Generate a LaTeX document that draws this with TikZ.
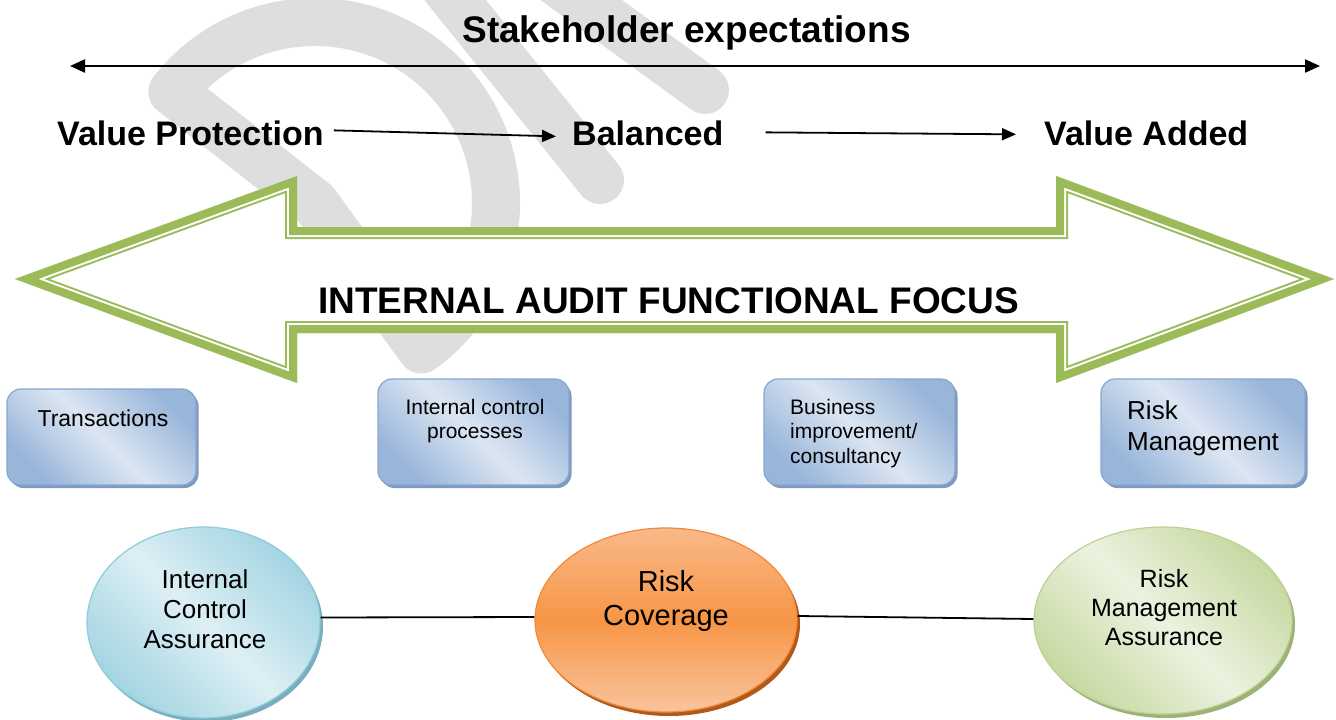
\documentclass[tikz,border=0pt]{standalone}
\usepackage{fontspec}
\setmainfont{Liberation Sans}
\usetikzlibrary{shapes.geometric,arrows.meta,shadows,calc}
\definecolor{wmgrey}{RGB}{222,222,222}
\definecolor{iagreen}{HTML}{9BBB59}
\definecolor{boxedge}{HTML}{86A6D2}
\definecolor{boxlight}{HTML}{DCE6F2}
\definecolor{boxdark}{HTML}{98B5DA}
\definecolor{boxshadow}{HTML}{8099BF}
\definecolor{cylight}{HTML}{DDEFF4}
\definecolor{cydark}{HTML}{A3D5E2}
\definecolor{cyedge}{HTML}{8ECBDB}
\definecolor{cyshadow}{HTML}{79AEBE}
\definecolor{orlight}{HTML}{F9B98A}
\definecolor{orlight2}{HTML}{FAC49C}
\definecolor{ormid}{HTML}{F79646}
\definecolor{oredge}{HTML}{F08A3A}
\definecolor{orshadow}{HTML}{B2591A}
\definecolor{gnlight}{HTML}{ECF2E0}
\definecolor{gndark}{HTML}{C6D9A1}
\definecolor{gnedge}{HTML}{BDD193}
\definecolor{gnshadow}{HTML}{9DB276}
\newcommand{\setfs}[2]{\fontsize{#1}{#2}\selectfont}
\begin{document}
\begin{tikzpicture}[x=1pt,y=-1pt,
  wmline/.style={draw=wmgrey, line width=48pt, line cap=round, line join=round},
  bluebox/.style={rectangle, draw=boxedge, line width=1.2pt, rounded corners=14pt,
    top color=boxdark, bottom color=boxdark, middle color=boxlight, shading angle=-45,
    drop shadow={shadow xshift=2.5pt, shadow yshift=-3pt, fill=boxshadow, opacity=1},
    inner sep=0pt},
  ellnode/.style={ellipse, inner sep=0pt, line width=1.2pt},
  cyell/.style={ellnode, draw=cyedge, top color=cydark, bottom color=cydark, middle color=cylight,
    shading angle=-45, drop shadow={shadow xshift=3pt, shadow yshift=-4pt, fill=cyshadow, opacity=1}},
  orell/.style={ellnode, draw=oredge, top color=orlight, bottom color=orlight2, middle color=ormid,
    drop shadow={shadow xshift=3pt, shadow yshift=-4pt, fill=orshadow, opacity=1}},
  gnell/.style={ellnode, draw=gnedge, top color=gndark, bottom color=gndark, middle color=gnlight,
    shading angle=-45, drop shadow={shadow xshift=3pt, shadow yshift=-4pt, fill=gnshadow, opacity=1}},
  bigtxt/.style={inner sep=0pt, font={\bfseries\setfs{37}{44}}},
  midtxt/.style={inner sep=0pt, font={\bfseries\setfs{34}{40}}},
  conn/.style={draw=black, line width=1.8pt},
  flow/.style={draw=black, line width=1.8pt, -{Triangle[length=14pt,width=12pt]}},
  span/.style={draw=black, line width=2.2pt, {Triangle[length=15pt,width=13pt]}-{Triangle[length=15pt,width=13pt]}}
]
\useasboundingbox (0,0) rectangle (1336,720);
\fill[white] (0,0) rectangle (1336,720);

% watermark
\coordinate (wc) at (315,203);
\draw[wmline] (wc) -- ($(wc)+(-142:181)$) arc[start angle=-142, end angle=54, radius=181] -- cycle;
\draw[wmline] (431,-30) -- (600,180);
\draw[wmline] (540,-30) -- (705,90);

% stakeholder expectations
\node[bigtxt, anchor=base] (title) at (686.5,42.5) {Stakeholder expectations};
\coordinate (sl) at (70,66);
\coordinate (sr) at (1320,66);
\draw[span] (sl) -- (sr);

% value line
\node[midtxt, anchor=base west] (vp) at (57,145) {Value Protection};
\node[midtxt, anchor=base west] (bal) at (572,145) {Balanced};
\node[midtxt, anchor=base west] (va) at (1044,145) {Value Added};
\draw[flow] ([xshift=10pt,yshift=2.5pt]vp.east) -- ([xshift=-16pt,yshift=-3.5pt]bal.west);
\draw[flow] ([xshift=42pt,yshift=0.5pt]bal.east) -- ([xshift=-28pt,yshift=-1.5pt]va.west);

% big double arrow
\coordinate (a1) at (15,279);
\coordinate (a2) at (297,176);
\coordinate (a3) at (297,227);
\coordinate (a4) at (1056,227);
\coordinate (a5) at (1056,176);
\coordinate (a6) at (1334,279);
\coordinate (a7) at (1056,383);
\coordinate (a8) at (1056,333);
\coordinate (a9) at (297,333);
\coordinate (a10) at (297,383);
\begin{scope}
  \clip (a1)--(a2)--(a3)--(a4)--(a5)--(a6)--(a7)--(a8)--(a9)--(a10)--cycle;
  \fill[white] (a1)--(a2)--(a3)--(a4)--(a5)--(a6)--(a7)--(a8)--(a9)--(a10)--cycle;
  \draw[iagreen, line width=24pt, miter limit=20] (a1)--(a2)--(a3)--(a4)--(a5)--(a6)--(a7)--(a8)--(a9)--(a10)--cycle;
  \draw[white, line width=20pt, miter limit=20] (a1)--(a2)--(a3)--(a4)--(a5)--(a6)--(a7)--(a8)--(a9)--(a10)--cycle;
  \draw[iagreen, line width=16pt, miter limit=20] (a1)--(a2)--(a3)--(a4)--(a5)--(a6)--(a7)--(a8)--(a9)--(a10)--cycle;
\end{scope}
\node[bigtxt, anchor=base] (focus) at (668.5,313) {INTERNAL AUDIT FUNCTIONAL FOCUS};

% boxes
\node[bluebox, minimum width=189pt, minimum height=96pt] (b1) at (101.5,437) {};
\node[bluebox, minimum width=191pt, minimum height=106pt] (b2) at (473.5,432) {};
\node[bluebox, minimum width=191pt, minimum height=106pt] (b3) at (859.5,432) {};
\node[bluebox, minimum width=204pt, minimum height=106pt] (b4) at (1203,432) {};
\node[inner sep=0pt, anchor=base, font=\setfs{23}{27}] (t1) at (103,426) {Transactions};
\node[inner sep=0pt, anchor=north, align=center, font=\setfs{21}{24}] (t2) at (475,398.7) {Internal control\\processes};
\node[inner sep=0pt, anchor=north west, align=left, font=\setfs{21}{24.5}] (t3) at (790,398.7) {Business\\improvement/\\consultancy};
\node[inner sep=0pt, anchor=north west, align=left, font=\setfs{26}{31}] (t4) at (1127,400.4) {Risk\\Management};

% ellipses
\node[cyell, minimum width=233pt, minimum height=191pt] (e1) at (203.5,622.5) {};
\node[orell, minimum width=262pt, minimum height=184pt] (e2) at (666,620) {};
\node[gnell, minimum width=258pt, minimum height=187pt] (e3) at (1163,620.5) {};
\draw[conn] ([yshift=5pt]e1.east) -- ([yshift=3pt]e2.west);
\draw[conn] ([yshift=4pt]e2.east) -- ([yshift=1.5pt]e3.west);
\node[inner sep=0pt, anchor=north, align=center, font=\setfs{26}{30}] (te1) at (205,569) {Internal\\Control\\Assurance};
\node[inner sep=0pt, anchor=north, align=center, font=\setfs{29}{34}] (te2) at (666,570) {Risk\\Coverage};
\node[inner sep=0pt, anchor=north, align=center, font=\setfs{25}{29}] (te3) at (1164,568.7) {Risk\\Management\\Assurance};
\end{tikzpicture}
\end{document}
